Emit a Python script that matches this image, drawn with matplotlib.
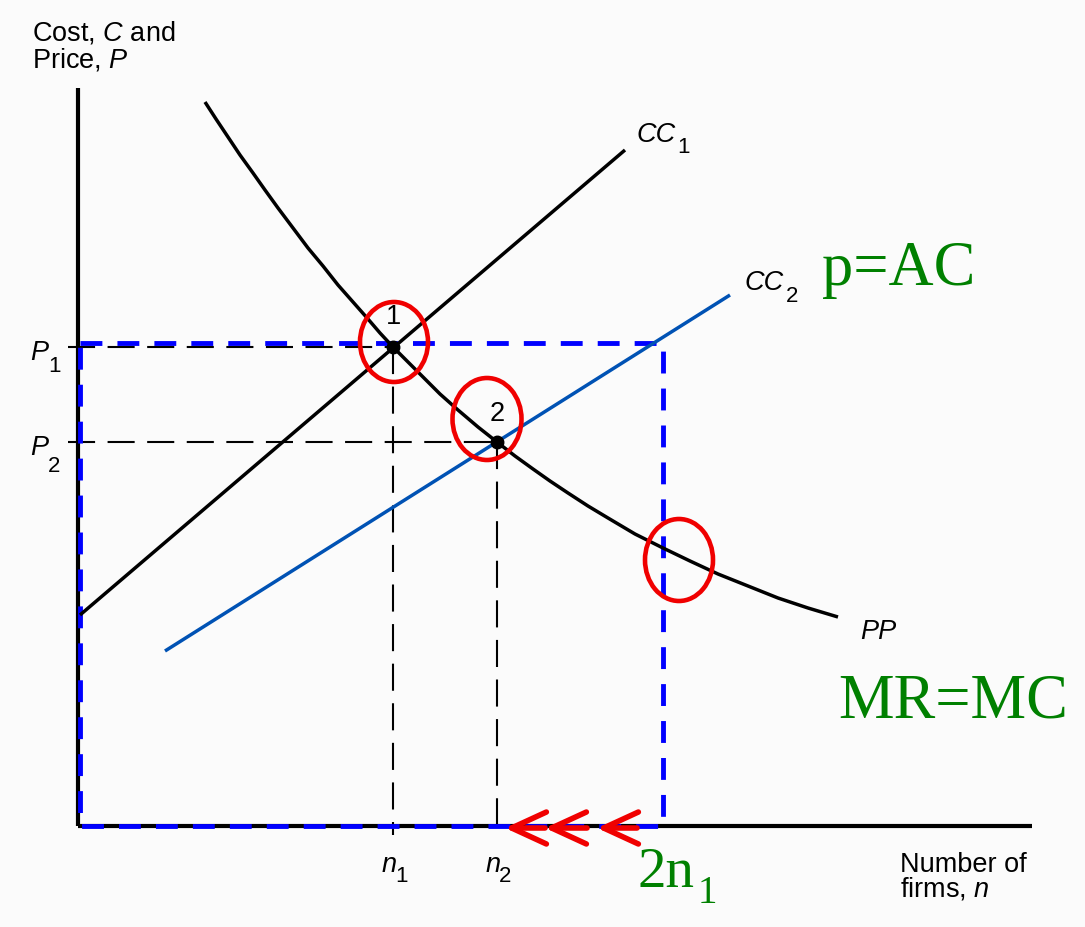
#!/usr/bin/env python3

import matplotlib
matplotlib.use('Agg')
import matplotlib.pyplot as plt
from matplotlib.patches import Ellipse, FancyArrowPatch

# Units: horizontal = number of firms n, vertical = cost / price
# (origin of the diagram at (0, 0))
n_max = 954
p_max = 738

# CC1 and CC2 average cost lines (end points)
cc1_n = [2, 547]
cc1_c = [211, 676]
cc2_n = [87, 652]
cc2_c = [175, 531]

# PP curve
pp_n = [127, 138, 150, 162, 175, 187, 200, 215, 230, 245, 260, 275, 290,
        302, 315, 330, 345, 362, 380, 400, 419, 437, 455, 472, 490, 510,
        530, 557, 585, 612, 640, 670, 700, 730, 760]
pp_p = [724, 707, 689, 671, 653, 636, 618, 598, 578, 560, 541, 524, 507,
        493, 479, 464, 449, 432, 416, 399, 384, 370, 357, 345, 333, 320,
        308, 292, 278, 265, 252, 240, 228, 218, 209]

# equilibria 1 and 2
eq_n = [315, 419]
eq_p = [479, 384]
eq_labels = ['1', '2']

# blue dashed box (2n1 and p=AC level)
box_n = [2, 585]
box_p = [0, 483]

# red circles: centre n, centre p, width, height
circ_n = [316, 409, 601]
circ_p = [484, 407, 266]
circ_w = [68, 69, 68]
circ_h = [80, 82, 82]

# red arrows along the n axis (tail -> tip)
arrow_tail = [467, 509, 559]
arrow_tip = [427, 467, 519]

sans = 'Liberation Sans'
serif = 'Liberation Serif'
plt.rcParams['mathtext.fontset'] = 'custom'
plt.rcParams['mathtext.rm'] = sans
plt.rcParams['mathtext.it'] = sans + ':italic'

fig = plt.figure(figsize=(10.85, 9.27), dpi=100, facecolor='#fbfbfb')
ax = fig.add_axes([0, 0, 1, 1])
ax.set_xlim(-78, 1007)
ax.set_ylim(-101, 826)
ax.axis('off')

# axes of the diagram
ax.plot([0, n_max], [0, 0], color='black', lw=3, solid_capstyle='butt')
ax.plot([0, 0], [0, p_max], color='black', lw=3, solid_capstyle='butt')

# dashed guide lines to P1, P2, n1, n2
for n, p in zip(eq_n, eq_p):
    ax.plot([-10, n], [p, p], color='black', lw=1.5, dashes=(13, 6))
    ax.plot([n, n], [p, -9], color='black', lw=1.5, dashes=(13, 6))

# blue dashed box
ax.plot([box_n[0], box_n[1], box_n[1], box_n[0], box_n[0]],
        [box_p[1], box_p[1], box_p[0], box_p[0], box_p[1]],
        color='#0000ff', lw=3.5, dashes=(4.5, 3.1))

# curves
ax.plot(pp_n, pp_p, color='black', lw=2.5, solid_capstyle='butt',
        solid_joinstyle='round')
ax.plot(cc1_n, cc1_c, color='black', lw=2.5, solid_capstyle='butt')
ax.plot(cc2_n, cc2_c, color='#0052b4', lw=2.5, solid_capstyle='butt')
ax.plot(eq_n, eq_p, 'o', color='black', ms=9)

# red circles
for cn, cp, w, h in zip(circ_n, circ_p, circ_w, circ_h):
    ax.add_patch(Ellipse((cn, cp), w, h, fill=False, edgecolor='#f00000',
                         lw=3.3, zorder=5))

# red arrows
for a, b in zip(arrow_tail, arrow_tip):
    ax.add_patch(FancyArrowPatch((a, -2), (b, -2),
                                 arrowstyle='->,head_length=2.5,head_width=1.15',
                                 mutation_scale=10, lw=4, color='#f00000',
                                 shrinkA=0, shrinkB=0, zorder=6))

# text labels
fs = 19.5
ax.text(-46, 786, r'Cost, $C$ and', fontsize=fs, family=sans)
ax.text(-46, 759, r'Price, $P$', fontsize=fs, family=sans)
ax.text(822, -46, 'Number of', fontsize=fs, family=sans)
ax.text(822, -71, r'firms, $n$', fontsize=fs, family=sans)

for lab, p, sub_p in zip(['1', '2'], eq_p, [454, 354]):
    ax.text(-48, p - 13, 'P', fontsize=fs, family=sans, style='italic')
    ax.text(-30, sub_p, lab, fontsize=16, family=sans)

for lab, n in zip(['1', '2'], eq_n):
    ax.text(n - 11, -46, 'n', fontsize=fs, family=sans, style='italic')
    ax.text(n + 2, -56, lab, fontsize=16, family=sans)

ax.text(315, 502, eq_labels[0], fontsize=fs, family=sans, ha='center')
ax.text(419, 405, eq_labels[1], fontsize=fs, family=sans, ha='center')

ax.text(559, 684, 'CC', fontsize=fs, family=sans, style='italic')
ax.text(599, 673, '1', fontsize=16, family=sans)
ax.text(667, 536, 'CC', fontsize=fs, family=sans, style='italic')
ax.text(708, 524, '2', fontsize=16, family=sans)
ax.text(782, 187, 'PP', fontsize=fs, family=sans, style='italic')

# green notes
ax.text(744, 541, 'p=AC', fontsize=45, family=serif, color='#008000')
ax.text(760, 109, 'MR=MC', fontsize=45, family=serif, color='#008000')
ax.text(559, -61, '2n', fontsize=41, family=serif, color='#008000')
ax.text(620, -77, '1', fontsize=28, family=serif, color='#008000')

fig.savefig('out.png', dpi=100, facecolor=fig.get_facecolor())
